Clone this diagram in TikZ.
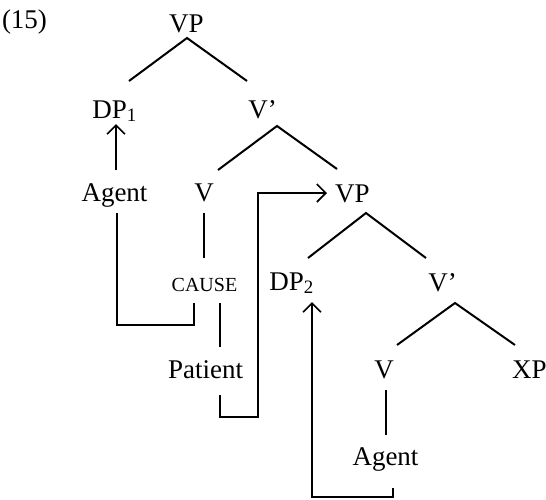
\documentclass[tikz,border=0pt]{standalone}
\usepackage{fontspec}
\setmainfont{Liberation Serif}
\usetikzlibrary{arrows.meta}

\tikzset{
    lbl/.style={inner sep=0pt, anchor=base, font=\fontsize{27}{30}\selectfont},
    smallcap/.style={inner sep=0pt, anchor=base, font=\fontsize{20}{24}\selectfont},
    branch/.style={line width=2pt},
    link/.style={line width=1.6pt},
    thinlink/.style={line width=1.1pt},
    move/.style={-{Straight Barb[length=9pt,width=18pt,line width=1.6pt]}}
}

\begin{document}
\begin{tikzpicture}[x=1pt,y=-1pt]
            \useasboundingbox (0,0) rectangle (546,499);

            % labels
            \node[lbl] (ex) at (24.5,28) {(15)};
            \node[lbl] (vpa) at (186.5,32) {VP};
            \node[lbl] (dpa) at (114.5,118) {DP\textsubscript{1}};
            \node[lbl] (vbara) at (262.5,118) {V’};
            \node[lbl] (agenta) at (114.5,201) {Agent};
            \node[lbl] (va) at (204,201) {V};
            \node[smallcap] (cause) at (204.5,291) {CAUSE};
            \node[lbl] (vpb) at (352.5,202) {VP};
            \node[lbl] (dpb) at (291.5,290) {DP\textsubscript{2}};
            \node[lbl] (vbarb) at (442.5,291) {V’};
            \node[lbl] (patient) at (205.5,378) {Patient};
            \node[lbl] (vb) at (384,378) {V};
            \node[lbl] (xp) at (529.5,378) {XP};
            \node[lbl] (agentb) at (385.5,465) {Agent};

            % branch points
            \coordinate (vpa-top) at (187,38);
            \coordinate (vpa-l) at (129,81);
            \coordinate (vpa-r) at (247,81);
            \coordinate (vbara-top) at (277,126);
            \coordinate (vbara-l) at (218,170);
            \coordinate (vbara-r) at (337,169);
            \coordinate (vpb-top) at (366,213);
            \coordinate (vpb-l) at (308,258);
            \coordinate (vpb-r) at (426,258);
            \coordinate (vbarb-top) at (455,303);
            \coordinate (vbarb-l) at (397,345);
            \coordinate (vbarb-r) at (515,345);

            \draw[branch] (vpa-l) -- (vpa-top) -- (vpa-r);
            \draw[branch] (vbara-l) -- (vbara-top) -- (vbara-r);
            \draw[branch] (vpb-l) -- (vpb-top) -- (vpb-r);
            \draw[branch] (vbarb-l) -- (vbarb-top) -- (vbarb-r);

            % V - CAUSE - Patient, V - Agent
            \coordinate (va-dn) at (204,213);
            \coordinate (cause-up) at (204,258);
            \draw[branch] (va-dn) -- (cause-up);
            \coordinate (cause-dn) at (220,303);
            \coordinate (patient-up) at (220,347);
            \draw[branch] (cause-dn) -- (patient-up);
            \coordinate (vb-dn) at (386,390);
            \coordinate (agentb-up) at (386,435);
            \draw[branch] (vb-dn) -- (agentb-up);

            % Agent -> DP1
            \coordinate (agenta-up) at (116,170);
            \coordinate (dpa-dn) at (116,124);
            \draw[link, move] (agenta-up) -- (dpa-dn);

            % Agent - CAUSE bracket
            \coordinate (agenta-dn) at (117,213);
            \coordinate (cause-dl) at (194,303);
            \draw[link] (agenta-dn) |- (194,325) -- (cause-dl);

            % Patient -> VP
            \coordinate (patient-dn) at (220,395);
            \coordinate (vpb-in) at (327,193);
            \draw[link, move] (patient-dn) |- (258,417) |- (vpb-in);

            % Agent -> DP2
            \coordinate (agentb-dn) at (393,488);
            \coordinate (dpb-dn) at (312,302);
            \draw[thinlink, move] (agentb-dn) |- (312,497) -- (dpb-dn);
        \end{tikzpicture}
\end{document}
